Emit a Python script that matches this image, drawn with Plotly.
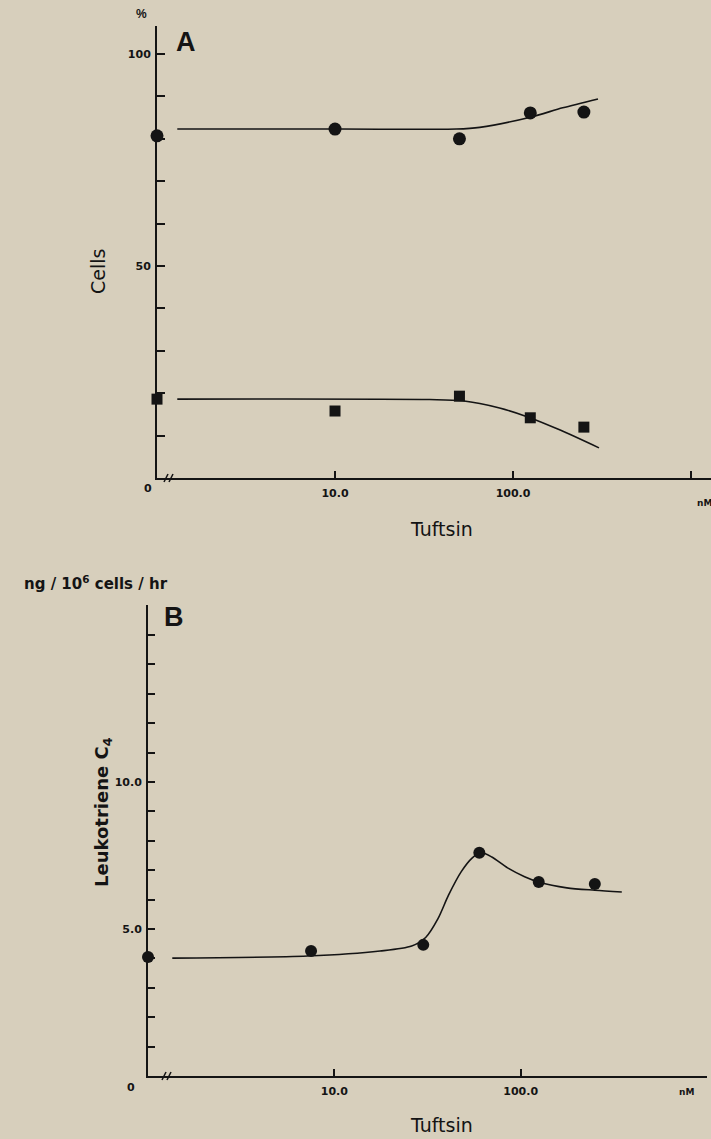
import plotly.graph_objects as go

# ---------------- data ----------------
# Tuftsin dose (nM); the zero dose is drawn at the start of the log axis (x = 1)
ZERO_POS = 1.0
doses_A = [0, 10, 50, 125, 250]
cells_circle = [80.7, 82.3, 80.0, 86.1, 86.3]
cells_square = [18.6, 15.8, 19.3, 14.2, 12.0]

fitA_up_x = [1.3, 10.7, 48, 65, 125, 190, 300]
fitA_up_y = [82.3, 82.3, 82.3, 82.7, 85.1, 87.3, 89.4]
fitA_lo_x = [1.3, 34, 52, 84, 121, 184, 304]
fitA_lo_y = [18.6, 18.5, 18.2, 16.5, 14.4, 11.3, 7.1]

doses_B = [0, 7.5, 30, 60, 125, 250]
ltc4 = [4.05, 4.25, 4.46, 7.59, 6.6, 6.53]
fitB_x = [1.35, 7.2, 17.6, 26, 31, 36, 41, 48, 55, 61, 70, 85, 105, 125, 177, 250, 349]
fitB_y = [4.01, 4.08, 4.25, 4.42, 4.72, 5.35, 6.15, 6.95, 7.42, 7.6, 7.45, 7.08, 6.78, 6.6, 6.4, 6.32, 6.26]

xtick_vals = [10, 100]
xtick_text = ["10.0", "100.0"]
x_minor_vals = [1000]
yA_tick_vals = [50, 100]
yA_tick_text = ["50", "100"]
yA_minor_vals = [10, 20, 30, 40, 60, 70, 80, 90]
yB_tick_vals = [5, 10]
yB_tick_text = ["5.0", "10.0"]
yB_minor_vals = [1, 2, 3, 4, 6, 7, 8, 9, 11, 12, 13, 14, 15]

# ---------------- layout helpers ----------------
W, H = 711, 1139
BG = "#d7cfbc"
INK = "#141414"


def px(x):
    return x / W


def py(y):
    return 1 - y / H


def plot_x(d):
    return [ZERO_POS if v == 0 else v for v in d]


fig = go.Figure()

line_style = dict(color=INK, width=1.6, shape="spline", smoothing=0.8)

# Panel A
fig.add_trace(go.Scatter(x=fitA_up_x, y=fitA_up_y, mode="lines", line=line_style,
                         xaxis="x", yaxis="y", hoverinfo="skip"))
fig.add_trace(go.Scatter(x=fitA_lo_x, y=fitA_lo_y, mode="lines", line=line_style,
                         xaxis="x", yaxis="y", hoverinfo="skip"))
fig.add_trace(go.Scatter(x=plot_x(doses_A), y=cells_circle, mode="markers",
                         marker=dict(symbol="circle", size=13, color=INK),
                         xaxis="x", yaxis="y", cliponaxis=False))
fig.add_trace(go.Scatter(x=plot_x(doses_A), y=cells_square, mode="markers",
                         marker=dict(symbol="square", size=11, color=INK),
                         xaxis="x", yaxis="y", cliponaxis=False))

# Panel B
fig.add_trace(go.Scatter(x=fitB_x, y=fitB_y, mode="lines", line=line_style,
                         xaxis="x2", yaxis="y2", hoverinfo="skip"))
fig.add_trace(go.Scatter(x=plot_x(doses_B), y=ltc4, mode="markers",
                         marker=dict(symbol="circle", size=12, color=INK),
                         xaxis="x2", yaxis="y2", cliponaxis=False))

tickfont = dict(family="DejaVu Sans", size=11, color=INK, weight="bold")
axis_common = dict(showline=True, linecolor=INK, linewidth=2, showgrid=False,
                   zeroline=False, ticks="inside", tickcolor=INK, tickwidth=1.5,
                   tickfont=tickfont, mirror=False)


def minor(vals, length):
    return dict(tickmode="array", tickvals=vals, ticks="inside", ticklen=length,
                tickcolor=INK, tickwidth=1.5, showgrid=False)


fig.update_layout(
    width=W, height=H,
    margin=dict(l=0, r=0, t=0, b=0),
    paper_bgcolor=BG, plot_bgcolor=BG,
    showlegend=False,
    xaxis=dict(axis_common, type="log", domain=[px(157), 1.0], range=[0, 3.112],
               tickvals=xtick_vals, ticktext=xtick_text, ticklen=7,
               minor=minor(x_minor_vals, 7),
               ticklabelstandoff=4, anchor="y"),
    yaxis=dict(axis_common, domain=[py(478), py(26)], range=[0, 106.6],
               tickvals=yA_tick_vals, ticktext=yA_tick_text, ticklen=8,
               minor=minor(yA_minor_vals, 8),
               ticklabelstandoff=2, anchor="x"),
    xaxis2=dict(axis_common, type="log", domain=[px(148), px(707)], range=[0, 3.0],
                tickvals=xtick_vals, ticktext=xtick_text, ticklen=7,
                minor=minor(x_minor_vals, 7),
                ticklabelstandoff=4, anchor="y2"),
    yaxis2=dict(axis_common, domain=[py(1076), py(605)], range=[0, 16.02],
                tickvals=yB_tick_vals, ticktext=yB_tick_text, ticklen=7,
                minor=minor(yB_minor_vals, 7),
                ticklabelstandoff=2, anchor="x2"),
)


def ann(text, x, y, size=12, bold=True, angle=0, family="Liberation Sans"):
    fig.add_annotation(text=text, x=px(x), y=py(y), xref="paper", yref="paper",
                       showarrow=False, textangle=angle, xanchor="center", yanchor="middle",
                       font=dict(family=family, size=size, color=INK,
                                 weight="bold" if bold else "normal"))


ann("%", 141, 14, size=12)
ann("A", 186, 42, size=27)
ann("0", 148, 488, size=11, family="DejaVu Sans")
ann("nM", 704, 503, size=9, family="DejaVu Sans")
ann("Tuftsin", 441, 529, size=19, bold=False, family="DejaVu Sans")
ann("Cells", 98, 272, size=19, bold=False, angle=-90, family="DejaVu Sans")

ann("ng / 10<sup>6</sup> cells / hr", 96, 583, size=15, family="DejaVu Sans")
ann("B", 174, 617, size=27)
ann("0", 131, 1087, size=11, family="DejaVu Sans")
ann("nM", 686, 1092, size=9, family="DejaVu Sans")
ann("Tuftsin", 441, 1125, size=19, bold=False, family="DejaVu Sans")
ann("Leukotriene C<sub>4</sub>", 103, 812, size=18, angle=-90, family="DejaVu Sans")

# axis break marks "//"
for (x0, yb) in [(164, 478), (162, 1076)]:
    for dx in (0, 5):
        fig.add_shape(type="line", xref="paper", yref="paper",
                      x0=px(x0 + dx), y0=py(yb + 4), x1=px(x0 + dx + 4), y1=py(yb - 4),
                      line=dict(color=INK, width=1.5))

fig.write_html("out.html")
